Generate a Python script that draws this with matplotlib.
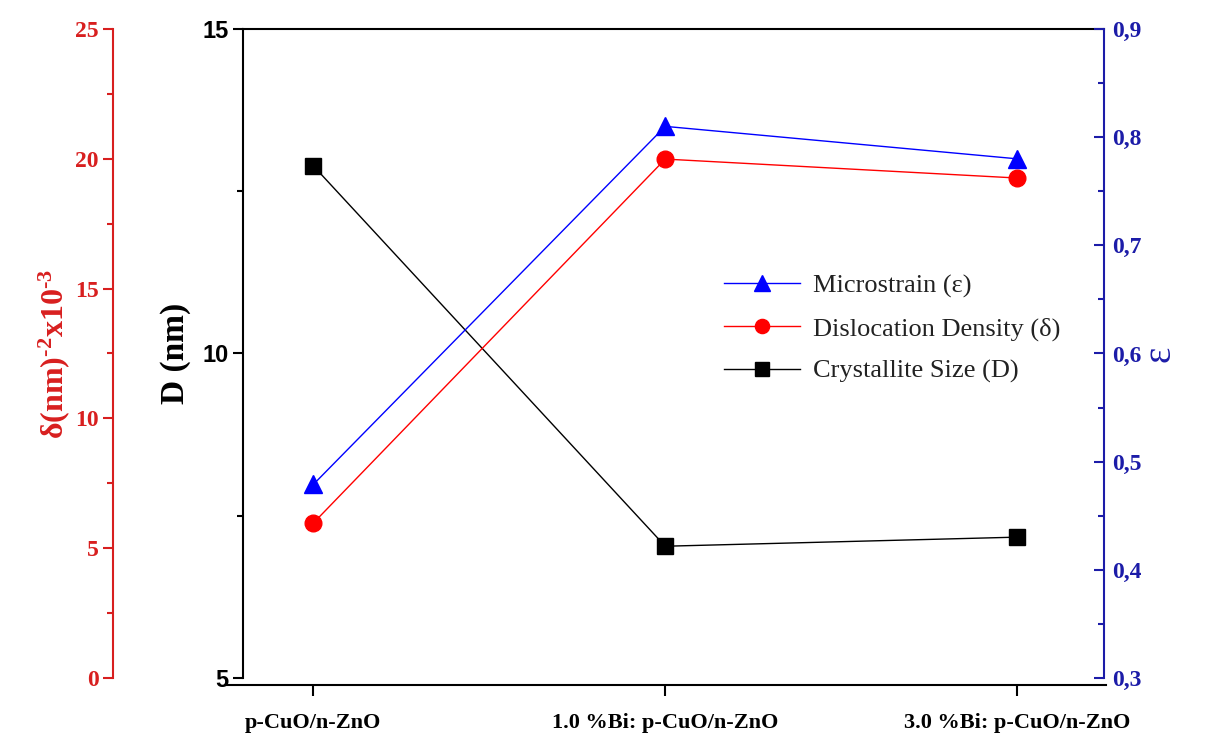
import numpy as np
import matplotlib
matplotlib.use("Agg")
import matplotlib.pyplot as plt
from matplotlib.ticker import MultipleLocator, FuncFormatter

samples = ["p-CuO/n-ZnO", "1.0 %Bi: p-CuO/n-ZnO", "3.0 %Bi: p-CuO/n-ZnO"]
crystallite_size = [12.89, 7.03, 7.17]      # D (nm)
dislocation_density = [5.97, 19.99, 19.26]  # delta x10^-3
microstrain = [0.479, 0.810, 0.780]         # epsilon

serif = "Liberation Serif"
sans = "Liberation Sans"
red = "#d81f1f"
navy = "#1c1ca8"

plt.rcParams["mathtext.fontset"] = "custom"
plt.rcParams["mathtext.rm"] = "Liberation Serif:bold"
plt.rcParams["mathtext.bf"] = "Liberation Serif:bold"
plt.rcParams["mathtext.it"] = "Liberation Serif:bold"
plt.rcParams["mathtext.default"] = "bf"

x = np.arange(len(samples))

fig = plt.figure(figsize=(12.08, 7.35), dpi=100)
ax = fig.add_axes([0.2012, 0.0776, 0.7127, 0.8829])
ax_d = ax.twinx()
ax_e = ax.twinx()

# crystallite size - main black axis
l1, = ax.plot(x, crystallite_size, color="black", lw=1, marker="s", ms=12,
              label="Crystallite Size (D)")
ax.set_xlim(-0.2, 2.247)
ax.set_ylim(5, 15)
ax.yaxis.set_major_locator(MultipleLocator(5))
ax.yaxis.set_minor_locator(MultipleLocator(2.5))
ax.tick_params(axis="y", which="major", direction="out", length=7, width=1.5, labelsize=17)
ax.tick_params(axis="y", which="minor", direction="out", length=4, width=1.5)
for t in ax.get_yticklabels():
    t.set_fontfamily(sans)
    t.set_fontweight("bold")
ax.set_ylabel("D (nm)", fontsize=24, fontweight="bold", fontfamily=serif, labelpad=8)
ax.spines["left"].set_linewidth(1.5)
ax.spines["top"].set_linewidth(1.5)
ax.spines["right"].set_visible(False)
ax.spines["bottom"].set_position(("outward", 5))
ax.spines["bottom"].set_linewidth(1.5)
ax.spines["bottom"].set_bounds(-0.245, 2.252)
ax.set_xticks(x)
ax.set_xticklabels(samples, fontsize=16, fontweight="bold", fontfamily=serif)
ax.tick_params(axis="x", direction="out", length=8, width=1.5, pad=12)

# dislocation density - red offset axis on the left
l2, = ax_d.plot(x, dislocation_density, color="red", lw=1, marker="o", ms=12,
                label="Dislocation Density (δ)")
ax_d.set_ylim(0, 25)
ax_d.yaxis.set_label_position("left")
ax_d.yaxis.set_ticks_position("left")
for s in ["top", "right", "bottom"]:
    ax_d.spines[s].set_visible(False)
ax_d.spines["left"].set_visible(True)
ax_d.spines["left"].set_position(("outward", 93.6))
ax_d.spines["left"].set_color(red)
ax_d.spines["left"].set_linewidth(1.5)
ax_d.yaxis.set_major_locator(MultipleLocator(5))
ax_d.yaxis.set_minor_locator(MultipleLocator(2.5))
ax_d.tick_params(axis="y", which="major", direction="out", length=7, width=1.5,
                 colors=red, labelsize=17)
ax_d.tick_params(axis="y", which="minor", direction="out", length=4, width=1.5, colors=red)
for t in ax_d.get_yticklabels():
    t.set_fontfamily(serif)
    t.set_fontweight("bold")
ax_d.set_ylabel(r"δ(nm)$^{\text{-}2}$x10$^{\text{-}3}$", color=red, fontsize=23,
                fontweight="bold", fontfamily=serif, labelpad=2)

# microstrain - blue axis on the right
l3, = ax_e.plot(x, microstrain, color="blue", lw=1, marker="^", ms=13,
                label="Microstrain (ε)")
ax_e.set_ylim(0.3, 0.9)
for s in ["top", "left", "bottom"]:
    ax_e.spines[s].set_visible(False)
ax_e.spines["right"].set_color(navy)
ax_e.spines["right"].set_linewidth(1.5)
ax_e.yaxis.set_major_locator(MultipleLocator(0.1))
ax_e.yaxis.set_minor_locator(MultipleLocator(0.05))
ax_e.yaxis.set_major_formatter(FuncFormatter(lambda v, p: f"{v:.1f}".replace(".", ",")))
ax_e.tick_params(axis="y", which="major", direction="in", length=7, width=1.5,
                 colors=navy, labelsize=17, pad=6)
ax_e.tick_params(axis="y", which="minor", direction="in", length=4, width=1.5, colors=navy)
for t in ax_e.get_yticklabels():
    t.set_fontfamily(serif)
    t.set_fontweight("bold")
ax_e.set_ylabel("ε", color=navy, fontsize=28, fontfamily=serif, rotation=90, labelpad=0)

leg = ax_e.legend(handles=[l3, l2, l1], loc="upper left",
                  bbox_to_anchor=(700 / 1208, 1 - 250 / 735),
                  bbox_transform=fig.transFigure, frameon=False,
                  prop={"family": serif, "size": 19}, handlelength=2.9,
                  handletextpad=0.5, labelspacing=0.72, markerscale=0.85)
for t in leg.get_texts():
    t.set_color("#222222")

fig.savefig("out.png", dpi=100)
